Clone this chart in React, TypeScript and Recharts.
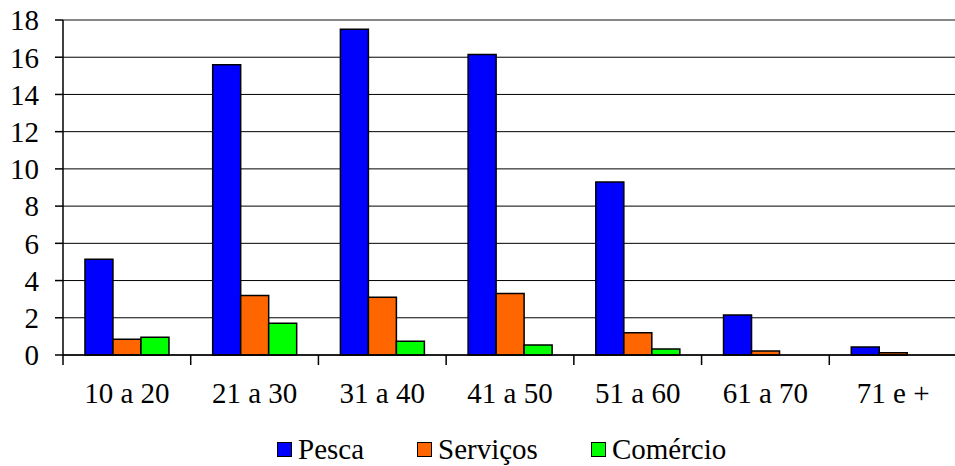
import React from 'react';
import {
  Bar,
  BarChart,
  CartesianGrid,
  Legend,
  ReferenceLine,
  XAxis,
  YAxis,
} from 'recharts';

const ageGroups = ['10 a 20', '21 a 30', '31 a 40', '41 a 50', '51 a 60', '61 a 70', '71 e +'];
const pesca = [5.15, 15.6, 17.5, 16.15, 9.3, 2.15, 0.43];
const servicos = [0.85, 3.2, 3.1, 3.3, 1.2, 0.21, 0.12];
const comercio = [0.95, 1.7, 0.74, 0.54, 0.32, 0, 0];
const yTicks = [0, 2, 4, 6, 8, 10, 12, 14, 16, 18];

const series = [
  { key: 'Pesca', color: '#0000FF' },
  { key: 'Serviços', color: '#FF6600' },
  { key: 'Comércio', color: '#00FF00' },
];

const data = ageGroups.map((name, i) => ({
  name,
  Pesca: pesca[i],
  Serviços: servicos[i],
  Comércio: comercio[i],
}));

const FONT = '"Liberation Serif", "Times New Roman", serif';

// force the serif face even if some outer stylesheet sets another one
const serifRef = (el: any) => {
  if (el) el.style.setProperty('font-family', FONT, 'important');
};

const CategoryTick = (props: any) => {
  const { x, y, payload } = props;
  const axisY = y - 27;
  const left = x - (payload.offset ?? 64);
  return (
    <g>
      <line x1={left} x2={left} y1={axisY} y2={axisY + 10} stroke="#000" strokeWidth={1.5} />
      <text
        ref={serifRef}
        x={x}
        y={y}
        dy="0.71em"
        textAnchor="middle"
        fill="#000"
        fontSize={29}
        fontFamily={FONT}
      >
        {payload.value}
      </text>
    </g>
  );
};

const YTick = (props: any) => {
  const { x, y, payload } = props;
  return (
    <text
      ref={serifRef}
      x={x}
      y={y}
      dy="0.355em"
      textAnchor="end"
      fill="#000"
      fontSize={29}
      fontFamily={FONT}
    >
      {payload.value}
    </text>
  );
};

const LegendContent = () => (
  <div
    style={{
      height: 51,
      boxSizing: 'border-box',
      paddingTop: 18,
      paddingLeft: 277,
      display: 'flex',
      alignItems: 'center',
      fontSize: 29,
      color: '#000',
    }}
  >
    {series.map((s) => (
      <div key={s.key} style={{ display: 'flex', alignItems: 'center', marginRight: 53 }}>
        <span
          style={{
            width: 13,
            height: 13,
            background: s.color,
            border: '1.5px solid #000',
            marginRight: 6,
            display: 'inline-block',
          }}
        />
        <span ref={serifRef}>{s.key}</span>
      </div>
    ))}
  </div>
);

const css = `
#root .recharts-wrapper text,
#root .recharts-wrapper span,
#root .recharts-legend-wrapper * { font-family: "Liberation Serif", "Times New Roman", serif !important; }
`;

export default function App() {
  return (
    <div
      style={{
        position: 'absolute',
        left: 0,
        top: 0,
        width: 955,
        height: 466,
        overflow: 'hidden',
        background: '#fff',
      }}
    >
      <style>{css}</style>
      <BarChart
        width={960}
        height={466}
        data={data}
        margin={{ top: 20, right: 3, left: 0, bottom: 0 }}
        barCategoryGap="17.2%"
        barGap={0}
      >
        <CartesianGrid vertical={false} stroke="#000" strokeWidth={1} />
        <ReferenceLine y={18} stroke="#888" strokeWidth={1.5} />
        <YAxis
          width={63}
          domain={[0, 18]}
          ticks={yTicks}
          interval={0}
          axisLine={{ stroke: '#000', strokeWidth: 1.5 }}
          tickLine={{ stroke: '#000', strokeWidth: 1.5 }}
          tickSize={8}
          tickMargin={16}
          tick={<YTick />}
        />
        <XAxis
          dataKey="name"
          height={60}
          interval={0}
          axisLine={{ stroke: '#000', strokeWidth: 1.5 }}
          tickLine={false}
          tickSize={0}
          tickMargin={27}
          tick={<CategoryTick />}
        />
        <Legend verticalAlign="bottom" content={<LegendContent />} wrapperStyle={{ left: 0, width: 955 }} />
        {series.map((s) => (
          <Bar
            key={s.key}
            dataKey={s.key}
            fill={s.color}
            stroke="#000"
            strokeWidth={1.5}
            isAnimationActive={false}
          />
        ))}
      </BarChart>
    </div>
  );
}
